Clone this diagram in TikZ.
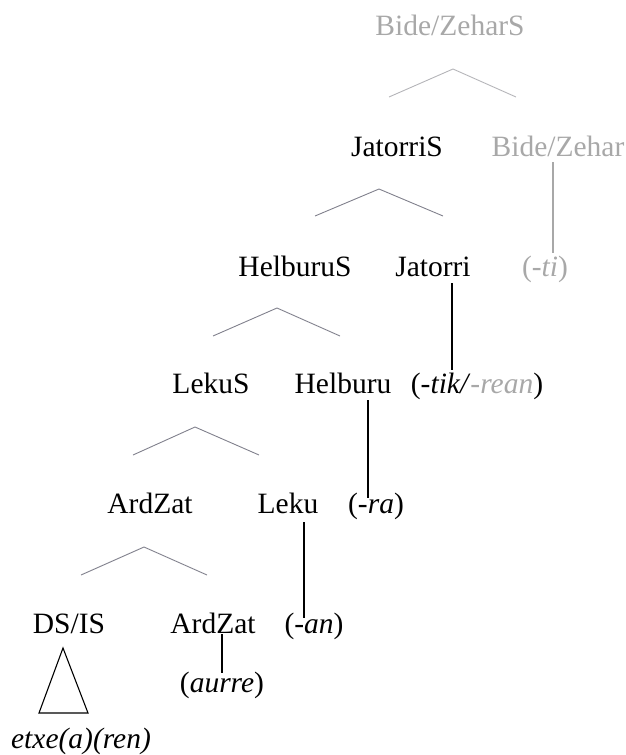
\documentclass[tikz,border=0pt]{standalone}
\usepackage{fontspec}
\setmainfont{Liberation Serif}
\definecolor{lgray}{HTML}{A8A8A8}
\definecolor{bcol}{HTML}{80808C}
\definecolor{tgray}{HTML}{B4B4B8}
\begin{document}
\begin{tikzpicture}[x=1pt,y=-1pt,
  lbl/.style={anchor=base,inner sep=0pt,font=\fontsize{29.5}{34}\selectfont},
  faint/.style={text=lgray},
  branch/.style={draw=bcol,line width=0.9pt},
  topbranch/.style={draw=tgray,line width=0.9pt},
  stem/.style={draw=black,line width=1.3pt},
  faintstem/.style={draw=lgray,line width=1.3pt}]
\useasboundingbox (0,0) rectangle (626,755);
% labels
\node[lbl,faint] (bzs) at (450,35) {Bide/ZeharS};
\node[lbl] (js) at (397,156) {JatorriS};
\node[lbl,faint] (bz) at (558,156) {Bide/Zehar};
\node[lbl] (hs) at (295,276) {HelburuS};
\node[lbl] (jat) at (433,276) {Jatorri};
\node[lbl,faint] (ti) at (545,276) {(-\textit{ti})};
\node[lbl] (ls) at (211,393) {LekuS};
\node[lbl] (hel) at (343,393) {Helburu};
\node[lbl] (tik) at (477,393) {(-\textit{tik/}\textcolor{lgray}{\textit{-rean}})};
\node[lbl] (az1) at (150,513) {ArdZat};
\node[lbl] (lek) at (288,513) {Leku};
\node[lbl] (ra) at (376,513) {(-\textit{ra})};
\node[lbl] (ds) at (69,633) {DS/IS};
\node[lbl] (az2) at (213,633) {ArdZat};
\node[lbl] (an) at (314,633) {(-\textit{an})};
\node[lbl] (aur) at (222,692) {(\textit{aurre})};
\node[lbl] (etx) at (81,748) {\textit{etxe(a)(ren)}};
% branch coordinates
\coordinate (b1l) at (389,97); \coordinate (b1p) at (453,69); \coordinate (b1r) at (516,97);
\coordinate (b2l) at (315,216); \coordinate (b2p) at (379,189); \coordinate (b2r) at (443,216);
\coordinate (b3l) at (213,336); \coordinate (b3p) at (277,308); \coordinate (b3r) at (340,336);
\coordinate (b4l) at (133,455); \coordinate (b4p) at (195,427); \coordinate (b4r) at (259,455);
\coordinate (b5l) at (81,575); \coordinate (b5p) at (144,547); \coordinate (b5r) at (207,575);
\draw[topbranch] (b1l) -- (b1p) -- (b1r);
\draw[branch] (b2l) -- (b2p) -- (b2r);
\draw[branch] (b3l) -- (b3p) -- (b3r);
\draw[branch] (b4l) -- (b4p) -- (b4r);
\draw[branch] (b5l) -- (b5p) -- (b5r);
% stems
\coordinate (s1a) at (553,162); \coordinate (s1b) at (553,253);
\coordinate (s2a) at (452,283); \coordinate (s2b) at (452,370);
\coordinate (s3a) at (368,400); \coordinate (s3b) at (368,498);
\coordinate (s4a) at (304,522); \coordinate (s4b) at (304,618);
\coordinate (s5a) at (222,634); \coordinate (s5b) at (222,673);
\draw[faintstem] (s1a) -- (s1b);
\draw[stem] (s2a) -- (s2b);
\draw[stem] (s3a) -- (s3b);
\draw[stem] (s4a) -- (s4b);
\draw[stem] (s5a) -- (s5b);
% triangle
\coordinate (ta) at (63,648); \coordinate (tl) at (39,713); \coordinate (tr) at (88,713);
\draw[line width=1.1pt,line join=miter] (ta) -- (tl) -- (tr) -- cycle;
\end{tikzpicture}
\end{document}
